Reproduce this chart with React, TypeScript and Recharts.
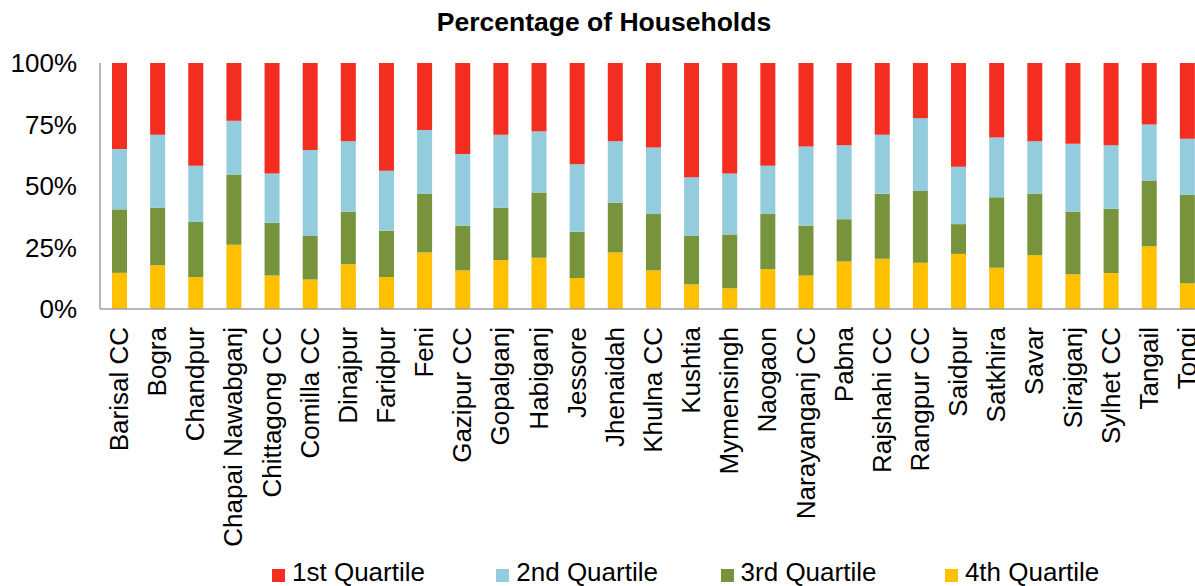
import React from 'react';
import { BarChart, Bar, XAxis, YAxis, Legend } from 'recharts';

const categories = [
  'Barisal CC', 'Bogra', 'Chandpur', 'Chapai Nawabganj', 'Chittagong CC', 'Comilla CC',
  'Dinajpur', 'Faridpur', 'Feni', 'Gazipur CC', 'Gopalganj', 'Habiganj', 'Jessore',
  'Jhenaidah', 'Khulna CC', 'Kushtia', 'Mymensingh', 'Naogaon', 'Narayanganj CC', 'Pabna',
  'Rajshahi CC', 'Rangpur CC', 'Saidpur', 'Satkhira', 'Savar', 'Sirajganj', 'Sylhet CC',
  'Tangail', 'Tongi',
];

// percentages per quartile (stack: 4th at bottom, 1st on top)
const q1 = [35.0, 29.2, 41.8, 23.5, 44.9, 35.4, 31.8, 43.8, 27.2, 37.0, 29.2, 27.7, 41.2, 31.8, 34.3, 46.4, 44.9, 41.8, 33.9, 33.4, 29.2, 22.4, 42.2, 30.3, 31.8, 32.8, 33.4, 25.0, 30.8];
const q2 = [24.5, 29.6, 22.8, 21.8, 20.1, 34.9, 28.6, 24.4, 25.9, 29.1, 29.6, 24.9, 27.4, 25.0, 27.1, 23.9, 24.8, 19.6, 32.2, 30.1, 23.9, 29.6, 23.3, 24.3, 21.3, 27.6, 25.9, 22.8, 22.8];
const q3 = [25.8, 23.4, 22.4, 28.6, 21.4, 17.7, 21.4, 18.8, 23.9, 18.2, 21.3, 26.6, 18.8, 20.2, 22.9, 19.7, 21.9, 22.4, 20.3, 17.2, 26.5, 29.2, 12.1, 28.6, 25.0, 25.5, 26.1, 26.7, 35.9];
const q4 = [14.7, 17.8, 13.0, 26.1, 13.6, 12.0, 18.2, 13.0, 23.0, 15.7, 19.9, 20.8, 12.6, 23.0, 15.7, 10.0, 8.4, 16.2, 13.6, 19.3, 20.4, 18.8, 22.4, 16.8, 21.9, 14.1, 14.6, 25.5, 10.5];

const seriesNames = ['1st Quartile', '2nd Quartile', '3rd Quartile', '4th Quartile'];
const yTicks = [0, 25, 50, 75, 100];

const COLORS = {
  q1: '#F32D1F',
  q2: '#93CDDD',
  q3: '#77933C',
  q4: '#FFC000',
};

const FONT = '"Liberation Sans", Arial, Helvetica, sans-serif';

const data = categories.map((name, i) => ({
  name,
  q1: q1[i],
  q2: q2[i],
  q3: q3[i],
  q4: q4[i],
}));

const XTick = (props: any) => {
  const { x, y, payload } = props;
  return (
    <g transform={`translate(${x},${y})`}>
      <text
        x={0}
        y={0}
        dy={9}
        transform="rotate(-90)"
        textAnchor="end"
        fontSize={26}
        fontFamily={FONT}
        fill="#000"
      >
        {payload.value}
      </text>
    </g>
  );
};

const legendItems = [
  { label: seriesNames[0], color: COLORS.q1 },
  { label: seriesNames[1], color: COLORS.q2 },
  { label: seriesNames[2], color: COLORS.q3 },
  { label: seriesNames[3], color: COLORS.q4 },
];

const LegendContent = () => (
  <div style={{ position: 'relative', height: 30, fontFamily: FONT }}>
    {legendItems.map((it, i) => (
      <div key={it.label} style={{ position: 'absolute', left: 272 + i * 224.3, top: 0, height: 30, width: 220 }}>
        <span style={{ position: 'absolute', left: 0, top: 13, width: 13, height: 13, background: it.color }} />
        <span style={{ position: 'absolute', left: 20, top: 3, fontSize: 26, color: '#000', whiteSpace: 'nowrap', lineHeight: '26px' }}>{it.label}</span>
      </div>
    ))}
  </div>
);

export default function App() {
  return (
    <div style={{ position: 'absolute', left: 0, top: 0, width: 1195, height: 586, overflow: 'hidden', background: '#fff' }}>
      <div
        style={{
          position: 'absolute',
          left: 0,
          top: 7,
          width: 1208,
          textAlign: 'center',
          fontFamily: FONT,
          fontWeight: 'bold',
          fontSize: 26.5,
          color: '#000',
          lineHeight: '30px',
        }}
      >
        Percentage of Households
      </div>
      <BarChart
        width={1216}
        height={586}
        data={data}
        margin={{ top: 63, right: 10, left: 0, bottom: 0 }}
        barSize={15}
      >
        <YAxis
          width={100}
          domain={[0, 100]}
          ticks={yTicks}
          tickFormatter={(v: number) => `${v}%`}
          tickLine={false}
          tickSize={0}
          tickMargin={23}
          axisLine={{ stroke: '#A0A0A0', strokeWidth: 1.5 }}
          tick={{ fontSize: 26, fontFamily: FONT, fill: '#000' }}
          allowDataOverflow
        />
        <XAxis
          dataKey="name"
          height={247}
          interval={0}
          tickLine={false}
          tickSize={0}
          tickMargin={18}
          axisLine={{ stroke: '#A0A0A0', strokeWidth: 1.5 }}
          tick={<XTick />}
        />
        <Legend verticalAlign="bottom" height={30} content={<LegendContent />} wrapperStyle={{ left: 0, width: 1216, bottom: 0 }} />
        <Bar dataKey="q4" name={seriesNames[3]} stackId="a" fill={COLORS.q4} isAnimationActive={false} />
        <Bar dataKey="q3" name={seriesNames[2]} stackId="a" fill={COLORS.q3} isAnimationActive={false} />
        <Bar dataKey="q2" name={seriesNames[1]} stackId="a" fill={COLORS.q2} isAnimationActive={false} />
        <Bar dataKey="q1" name={seriesNames[0]} stackId="a" fill={COLORS.q1} isAnimationActive={false} />
      </BarChart>
    </div>
  );
}
